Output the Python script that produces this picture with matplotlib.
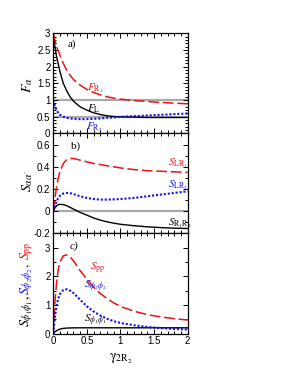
import matplotlib
matplotlib.use("Agg")
import matplotlib.pyplot as plt
from matplotlib.ticker import MultipleLocator

plt.rcParams['font.family'] = ['Liberation Sans', 'DejaVu Sans']
plt.rcParams['mathtext.fontset'] = 'stix'

# ---- data ----
gamma = [0, 0.025, 0.05, 0.075, 0.1, 0.15, 0.2, 0.25, 0.3, 0.4, 0.5, 0.6, 0.7,
         0.8, 0.9, 1.0, 1.2, 1.4, 1.6, 1.8, 2.0]

F_L = [3.0, 2.6, 2.3, 2.08, 1.85, 1.5, 1.28, 1.1, 0.97, 0.8, 0.7, 0.62, 0.57,
       0.53, 0.51, 0.5, 0.49, 0.48, 0.48, 0.48, 0.48]
F_R1 = [3.0, 2.8, 2.6, 2.47, 2.35, 2.1, 1.9, 1.75, 1.62, 1.45, 1.32, 1.23, 1.16,
        1.1, 1.06, 1.03, 0.99, 0.96, 0.93, 0.91, 0.89]
F_R2 = [1.0, 0.82, 0.7, 0.62, 0.56, 0.5, 0.47, 0.45, 0.44, 0.43, 0.43, 0.44, 0.45,
        0.47, 0.48, 0.5, 0.52, 0.54, 0.56, 0.58, 0.6]

S_LR1 = [0, 0.12, 0.22, 0.3, 0.36, 0.43, 0.465, 0.475, 0.475, 0.46, 0.445, 0.43,
         0.42, 0.41, 0.40, 0.39, 0.375, 0.365, 0.36, 0.355, 0.35]
S_LR2 = [0, 0.05, 0.09, 0.12, 0.14, 0.16, 0.165, 0.163, 0.155, 0.135, 0.12, 0.11,
         0.105, 0.105, 0.107, 0.11, 0.12, 0.135, 0.15, 0.165, 0.18]
S_R1R2 = [0, 0.03, 0.05, 0.06, 0.062, 0.06, 0.05, 0.035, 0.02, -0.01, -0.035,
          -0.06, -0.08, -0.095, -0.107, -0.117, -0.13, -0.14, -0.147, -0.152, -0.155]

S_pp = [0, 1.1, 1.8, 2.25, 2.5, 2.72, 2.75, 2.68, 2.55, 2.2, 1.9, 1.62, 1.4,
        1.22, 1.07, 0.95, 0.78, 0.66, 0.58, 0.52, 0.47]
S_p2p2 = [0, 0.6, 0.98, 1.22, 1.38, 1.52, 1.55, 1.5, 1.42, 1.18, 0.95, 0.77, 0.63,
          0.52, 0.43, 0.37, 0.29, 0.23, 0.19, 0.16, 0.14]
S_p1p1 = [0, 0.06, 0.1, 0.13, 0.155, 0.18, 0.19, 0.195, 0.198, 0.2, 0.2, 0.2, 0.2,
          0.2, 0.2, 0.2, 0.2, 0.2, 0.2, 0.2, 0.2]

RED = '#ee1111'
BLUE = '#1111ee'
GRAY = '#aaaaaa'

fig = plt.figure(figsize=(2.91, 3.76), dpi=100)
L, W = 0.183, 0.462
axa = fig.add_axes([L, 0.645, W, 0.266])
axb = fig.add_axes([L, 0.379, W, 0.266])
axc = fig.add_axes([L, 0.113, W, 0.266])

dash = dict(color=RED, lw=1.1, dashes=(7, 2.5))
dot = dict(color=BLUE, lw=1.5, dashes=(1, 0.9))
solid = dict(color='black', lw=1.0)

# panel a
axa.axhline(1.0, color=GRAY, lw=1.6, zorder=1)
axa.axhline(0.5, color=GRAY, lw=1.6, zorder=1)
axa.plot(gamma, F_L, **solid)
axa.plot(gamma, F_R1, **dash)
axa.plot(gamma, F_R2, **dot)
axa.set_ylim(0, 3)
axa.set_yticks([0, 0.5, 1, 1.5, 2, 2.5, 3])
axa.set_yticklabels(['0', '0.5', '1', '1.5', '2', '2.5', '3'])
axa.yaxis.set_minor_locator(MultipleLocator(0.1))
axa.text(0.22, 2.6, 'a)', fontsize=8, family='Liberation Serif')
axa.text(0.5, 1.3, r'$F_{\rm R_1}$', color=RED, fontsize=8)
axa.text(0.5, 0.67, r'$F_{\rm L}$', color='black', fontsize=8)
axa.text(0.48, 0.12, r'$F_{\rm R_2}$', color=BLUE, fontsize=8)
axa.text(-0.19, 0.48, r'$F_{\alpha}$', transform=axa.transAxes, rotation=90,
         ha='center', va='center', fontsize=10)

# panel b
axb.axhline(0.0, color=GRAY, lw=1.6, zorder=1)
axb.plot(gamma, S_R1R2, **solid)
axb.plot(gamma, S_LR1, **dash)
axb.plot(gamma, S_LR2, **dot)
axb.set_ylim(-0.2, 0.7)
axb.set_yticks([-0.2, 0, 0.2, 0.4, 0.6])
axb.set_yticklabels(['-0.2', '0', '0.2', '0.4', '0.6'])
axb.yaxis.set_minor_locator(MultipleLocator(0.1))
axb.text(0.27, 0.56, 'b)', fontsize=8, family='Liberation Serif')
axb.text(1.7, 0.41, r'$S_{\rm LR_1}$', color=RED, fontsize=8)
axb.text(1.7, 0.21, r'$S_{\rm LR_2}$', color=BLUE, fontsize=8)
axb.text(1.7, -0.125, r'$S_{\rm R_1R_2}$', color='black', fontsize=8)
axb.text(-0.19, 0.52, r"$S_{\alpha\alpha'}$", transform=axb.transAxes, rotation=90,
         ha='center', va='center', fontsize=10)

# panel c
axc.plot(gamma, S_p1p1, **solid)
axc.plot(gamma, S_pp, **dash)
axc.plot(gamma, S_p2p2, **dot)
axc.set_ylim(0, 3.5)
axc.set_yticks([0, 1, 2, 3])
axc.set_yticklabels(['0', '1', '2', '3'])
axc.yaxis.set_minor_locator(MultipleLocator(0.5))
axc.text(0.25, 2.95, 'c)', fontsize=8, family='Liberation Serif', style='italic')
axc.text(0.55, 2.2, r'$S_{\rm pp}$', color=RED, fontsize=8)
axc.text(0.45, 1.57, r'$S_{\phi_2\phi_2}$', color=BLUE, fontsize=8)
axc.text(0.45, 0.4, r'$S_{\phi_1\phi_1}$', color='black', fontsize=8)
axc.text(-0.195, 0.07, r'$S_{\phi_1\phi_1},$', transform=axc.transAxes, rotation=90,
         ha='center', va='bottom', fontsize=10, color='black')
axc.text(-0.195, 0.39, r'$S_{\phi_2\phi_2},$', transform=axc.transAxes, rotation=90,
         ha='center', va='bottom', fontsize=10, color=BLUE)
axc.text(-0.195, 0.74, r'$S_{\rm pp}$', transform=axc.transAxes, rotation=90,
         ha='center', va='bottom', fontsize=10, color=RED)
axc.set_xlabel(r'$\mathrm{\gamma}_{\rm 2R_2}$', fontsize=10, labelpad=4)

for ax in (axa, axb, axc):
    ax.set_xlim(0, 2)
    ax.xaxis.set_major_locator(MultipleLocator(0.5))
    ax.xaxis.set_minor_locator(MultipleLocator(0.1))
    ax.tick_params(which='both', direction='in', top=True, right=True,
                   labelsize=7, pad=2, width=0.7)
    ax.tick_params(which='major', length=3.5)
    ax.tick_params(which='minor', length=2.5)
    for s in ax.spines.values():
        s.set_linewidth(0.9)
    if ax is not axc:
        ax.tick_params(labelbottom=False)

axc.set_xticks([0, 0.5, 1, 1.5, 2])
axc.set_xticklabels(['0', '0.5', '1', '1.5', '2'])

fig.savefig('out.png', dpi=100)
